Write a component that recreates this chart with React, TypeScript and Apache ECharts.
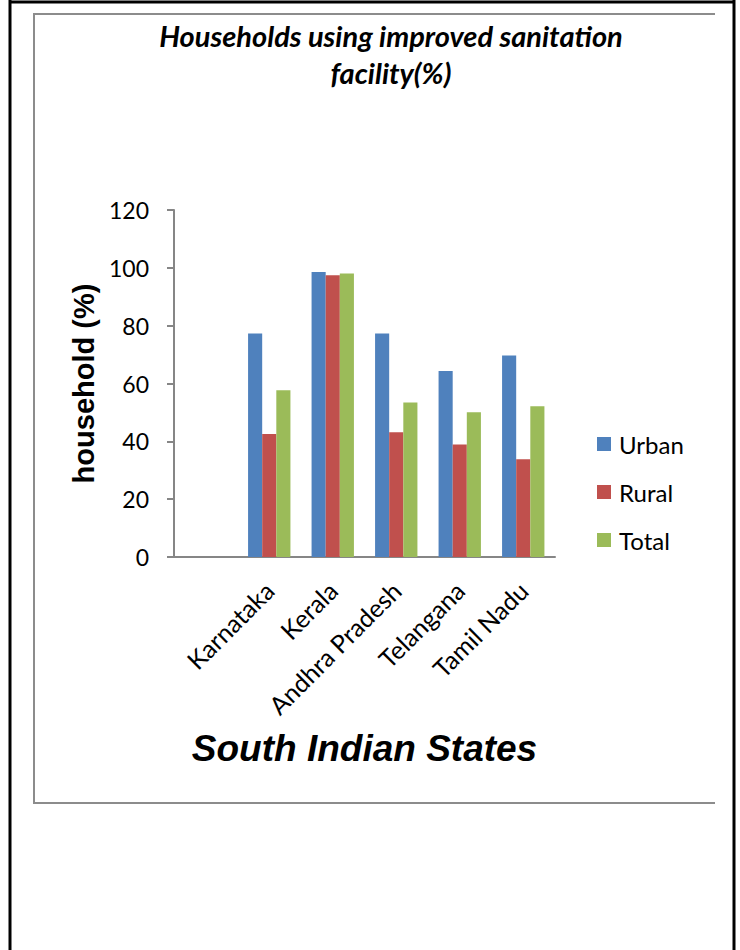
import React, { useEffect, useRef } from "react";
import * as echarts from "echarts";

const categories = ["", "Karnataka", "Kerala", "Andhra Pradesh", "Telangana", "Tamil Nadu"];
const urban = [null, 77.3, 98.6, 77.3, 64.3, 69.7];
const rural = [null, 42.5, 97.4, 43.1, 38.9, 33.8];
const total = [null, 57.7, 98.0, 53.4, 50.1, 52.1];
const seriesNames = ["Urban", "Rural", "Total"];
const colors = ["#4F81BD", "#C0504D", "#9BBB59"];
const titleText = "Households using improved sanitation\nfacility(%)";
const yName = "household (%)";
const xName = "South Indian States";

export default function App() {
  const ref = useRef<HTMLDivElement>(null);
  useEffect(() => {
    if (!ref.current) return;
    const chart = echarts.init(ref.current, undefined, { renderer: "svg" });
    const data = [urban, rural, total];
    chart.setOption({
      animation: false,
      backgroundColor: "#ffffff",
      title: {
        text: titleText,
        left: 391,
        top: 17,
        padding: 0,
        textAlign: "center",
        textStyle: {
          fontFamily: "Lato",
          fontWeight: "bold",
          fontStyle: "italic",
          fontSize: 29,
          lineHeight: 37,
          color: "#000",
        },
      },
      legend: {
        orient: "vertical",
        left: 597,
        top: 432,
        padding: 0,
        itemWidth: 14,
        itemHeight: 14,
        itemGap: 24,
        icon: "rect",
        textStyle: { fontFamily: "Lato", fontSize: 24, lineHeight: 24, color: "#000", padding: [0, 0, 0, 3] },
        data: seriesNames,
      },
      grid: { left: 174, right: 185, top: 210, bottom: 393, containLabel: false },
      xAxis: {
        type: "category",
        data: categories,
        axisLine: { lineStyle: { color: "#868686", width: 2 } },
        axisTick: { show: false },
        axisLabel: { rotate: 45, margin: 29, fontFamily: "Lato", fontSize: 25, color: "#000", interval: 0 },
        name: xName,
        nameLocation: "middle",
        nameGap: 173,
        nameTextStyle: {
          fontFamily: "Liberation Sans",
          fontWeight: "bold",
          fontStyle: "italic",
          fontSize: 37,
          color: "#000",
        },
      },
      yAxis: {
        type: "value",
        min: 0,
        max: 120,
        interval: 20,
        axisLine: { show: true, lineStyle: { color: "#868686", width: 2 } },
        axisTick: { show: true, length: 7, lineStyle: { color: "#868686", width: 2 } },
        splitLine: { show: false },
        axisLabel: { margin: 25, fontFamily: "Lato", fontSize: 23, color: "#000" },
        name: yName,
        nameLocation: "middle",
        nameRotate: 90,
        nameGap: 70,
        nameTextStyle: {
          fontFamily: "Liberation Sans",
          fontWeight: "bold",
          fontSize: 29,
          color: "#000",
        },
      },
      series: seriesNames.map((n, i) => ({
        name: n,
        type: "bar",
        data: data[i],
        barGap: "0%",
        barCategoryGap: "33.3%",
        itemStyle: { color: colors[i] },
      })),
      graphic: [
        { type: "line", shape: { x1: 10, y1: 0, x2: 10, y2: 950 }, style: { stroke: "#000", lineWidth: 3 } },
        { type: "line", shape: { x1: 9, y1: 2, x2: 735, y2: 2 }, style: { stroke: "#000", lineWidth: 3 } },
        { type: "line", shape: { x1: 734, y1: 0, x2: 734, y2: 950 }, style: { stroke: "#000", lineWidth: 3 } },
        { type: "polyline", shape: { points: [[715, 14], [34, 14], [34, 803], [715, 803]] }, style: { stroke: "#8c8c8c", lineWidth: 2, fill: null } },
      ],
    });
    return () => chart.dispose();
  }, []);
  return (
    <div
      ref={ref}
      style={{ position: "fixed", left: 0, top: 0, width: 740, height: 950 }}
    />
  );
}
